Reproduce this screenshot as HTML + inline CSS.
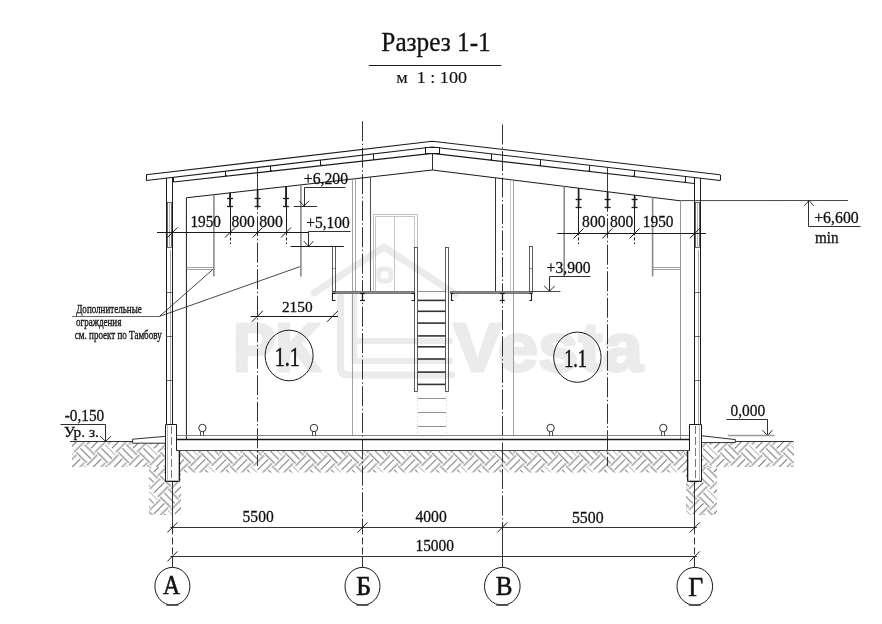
<!DOCTYPE html>
<html><head><meta charset="utf-8"><style>
html,body{margin:0;padding:0;background:#fff;}
svg{display:block;filter:grayscale(1);}
</style></head><body>
<svg width="882" height="624" viewBox="0 0 882 624">
<rect width="882" height="624" fill="#fff"/>
<text transform="translate(233.06,371.30) scale(0.9243,1)" font-family="Liberation Sans, sans-serif" font-weight="bold" font-size="68.55" fill="#ebebeb" stroke="#ebebeb" stroke-width="3.25" stroke-linejoin="round">PK</text>
<text transform="translate(453.27,370.70) scale(1.0591,1)" font-family="Liberation Sans, sans-serif" font-weight="bold" font-size="68.55" fill="#ebebeb" stroke="#ebebeb" stroke-width="2.83" stroke-linejoin="round">Vesta</text>
<g fill="none" stroke="#ebebeb" stroke-width="7" stroke-linejoin="round" stroke-linecap="round">
<polyline points="314,293 384,247 455,294"/>
<path d="M340.5,296 L340.5,367 Q340.5,375 348.5,375 L452,375"/>
<path d="M354.4,293 L354.4,361 L450,361 M354.4,341 L450,341" stroke-width="6"/>
<rect x="378.7" y="268.9" width="12" height="12" rx="3" stroke-width="5"/>
</g>
<defs>
<pattern id="phin" patternUnits="userSpaceOnUse" width="29.700" height="29.700" patternTransform="translate(-1.00,3.90) rotate(45)">
<g stroke="#686868" stroke-width="0.95">
<line x1="0.00" y1="0.00" x2="14.85" y2="0.00"/>
<line x1="0.00" y1="5.57" x2="14.85" y2="5.57"/>
<line x1="0.00" y1="11.14" x2="14.85" y2="11.14"/>
<line x1="16.71" y1="-1.86" x2="16.71" y2="12.99"/>
<line x1="16.71" y1="27.84" x2="16.71" y2="42.69"/>
<line x1="22.27" y1="-1.86" x2="22.27" y2="12.99"/>
<line x1="22.27" y1="27.84" x2="22.27" y2="42.69"/>
<line x1="27.84" y1="-1.86" x2="27.84" y2="12.99"/>
<line x1="27.84" y1="27.84" x2="27.84" y2="42.69"/>
<line x1="1.86" y1="12.99" x2="1.86" y2="27.84"/>
<line x1="1.86" y1="42.69" x2="1.86" y2="57.54"/>
<line x1="7.42" y1="12.99" x2="7.42" y2="27.84"/>
<line x1="7.42" y1="42.69" x2="7.42" y2="57.54"/>
<line x1="12.99" y1="12.99" x2="12.99" y2="27.84"/>
<line x1="12.99" y1="42.69" x2="12.99" y2="57.54"/>
<line x1="14.85" y1="14.85" x2="29.70" y2="14.85"/>
<line x1="14.85" y1="20.42" x2="29.70" y2="20.42"/>
<line x1="14.85" y1="25.99" x2="29.70" y2="25.99"/>
</g></pattern>
<clipPath id="chin"><rect x="179" y="451" width="510" height="21.5"/></clipPath>
<pattern id="phlo" patternUnits="userSpaceOnUse" width="29.700" height="29.700" patternTransform="translate(0.30,3.40) rotate(45)">
<g stroke="#686868" stroke-width="0.95">
<line x1="0.00" y1="0.00" x2="14.85" y2="0.00"/>
<line x1="0.00" y1="5.57" x2="14.85" y2="5.57"/>
<line x1="0.00" y1="11.14" x2="14.85" y2="11.14"/>
<line x1="16.71" y1="-1.86" x2="16.71" y2="12.99"/>
<line x1="16.71" y1="27.84" x2="16.71" y2="42.69"/>
<line x1="22.27" y1="-1.86" x2="22.27" y2="12.99"/>
<line x1="22.27" y1="27.84" x2="22.27" y2="42.69"/>
<line x1="27.84" y1="-1.86" x2="27.84" y2="12.99"/>
<line x1="27.84" y1="27.84" x2="27.84" y2="42.69"/>
<line x1="1.86" y1="12.99" x2="1.86" y2="27.84"/>
<line x1="1.86" y1="42.69" x2="1.86" y2="57.54"/>
<line x1="7.42" y1="12.99" x2="7.42" y2="27.84"/>
<line x1="7.42" y1="42.69" x2="7.42" y2="57.54"/>
<line x1="12.99" y1="12.99" x2="12.99" y2="27.84"/>
<line x1="12.99" y1="42.69" x2="12.99" y2="57.54"/>
<line x1="14.85" y1="14.85" x2="29.70" y2="14.85"/>
<line x1="14.85" y1="20.42" x2="29.70" y2="20.42"/>
<line x1="14.85" y1="25.99" x2="29.70" y2="25.99"/>
</g></pattern>
<clipPath id="chlo"><polygon points="72,442 176.7,442 176.7,450 181,450 181,467 72,467"/></clipPath>
<pattern id="phlu" patternUnits="userSpaceOnUse" width="29.700" height="29.700" patternTransform="translate(0.20,6.00) rotate(45)">
<g stroke="#686868" stroke-width="0.95">
<line x1="0.00" y1="0.00" x2="14.85" y2="0.00"/>
<line x1="0.00" y1="5.57" x2="14.85" y2="5.57"/>
<line x1="0.00" y1="11.14" x2="14.85" y2="11.14"/>
<line x1="16.71" y1="-1.86" x2="16.71" y2="12.99"/>
<line x1="16.71" y1="27.84" x2="16.71" y2="42.69"/>
<line x1="22.27" y1="-1.86" x2="22.27" y2="12.99"/>
<line x1="22.27" y1="27.84" x2="22.27" y2="42.69"/>
<line x1="27.84" y1="-1.86" x2="27.84" y2="12.99"/>
<line x1="27.84" y1="27.84" x2="27.84" y2="42.69"/>
<line x1="1.86" y1="12.99" x2="1.86" y2="27.84"/>
<line x1="1.86" y1="42.69" x2="1.86" y2="57.54"/>
<line x1="7.42" y1="12.99" x2="7.42" y2="27.84"/>
<line x1="7.42" y1="42.69" x2="7.42" y2="57.54"/>
<line x1="12.99" y1="12.99" x2="12.99" y2="27.84"/>
<line x1="12.99" y1="42.69" x2="12.99" y2="57.54"/>
<line x1="14.85" y1="14.85" x2="29.70" y2="14.85"/>
<line x1="14.85" y1="20.42" x2="29.70" y2="20.42"/>
<line x1="14.85" y1="25.99" x2="29.70" y2="25.99"/>
</g></pattern>
<clipPath id="chlu"><polygon points="149,467 181,467 181,515 149,515"/></clipPath>
<pattern id="phro" patternUnits="userSpaceOnUse" width="29.700" height="29.700" patternTransform="translate(14.10,3.60) rotate(45)">
<g stroke="#686868" stroke-width="0.95">
<line x1="0.00" y1="0.00" x2="14.85" y2="0.00"/>
<line x1="0.00" y1="5.57" x2="14.85" y2="5.57"/>
<line x1="0.00" y1="11.14" x2="14.85" y2="11.14"/>
<line x1="16.71" y1="-1.86" x2="16.71" y2="12.99"/>
<line x1="16.71" y1="27.84" x2="16.71" y2="42.69"/>
<line x1="22.27" y1="-1.86" x2="22.27" y2="12.99"/>
<line x1="22.27" y1="27.84" x2="22.27" y2="42.69"/>
<line x1="27.84" y1="-1.86" x2="27.84" y2="12.99"/>
<line x1="27.84" y1="27.84" x2="27.84" y2="42.69"/>
<line x1="1.86" y1="12.99" x2="1.86" y2="27.84"/>
<line x1="1.86" y1="42.69" x2="1.86" y2="57.54"/>
<line x1="7.42" y1="12.99" x2="7.42" y2="27.84"/>
<line x1="7.42" y1="42.69" x2="7.42" y2="57.54"/>
<line x1="12.99" y1="12.99" x2="12.99" y2="27.84"/>
<line x1="12.99" y1="42.69" x2="12.99" y2="57.54"/>
<line x1="14.85" y1="14.85" x2="29.70" y2="14.85"/>
<line x1="14.85" y1="20.42" x2="29.70" y2="20.42"/>
<line x1="14.85" y1="25.99" x2="29.70" y2="25.99"/>
</g></pattern>
<clipPath id="chro"><polygon points="686,450 689.4,450 689.4,442 794,442 794,467 686,467"/></clipPath>
<pattern id="phru" patternUnits="userSpaceOnUse" width="29.700" height="29.700" patternTransform="translate(14.30,6.00) rotate(45)">
<g stroke="#686868" stroke-width="0.95">
<line x1="0.00" y1="0.00" x2="14.85" y2="0.00"/>
<line x1="0.00" y1="5.57" x2="14.85" y2="5.57"/>
<line x1="0.00" y1="11.14" x2="14.85" y2="11.14"/>
<line x1="16.71" y1="-1.86" x2="16.71" y2="12.99"/>
<line x1="16.71" y1="27.84" x2="16.71" y2="42.69"/>
<line x1="22.27" y1="-1.86" x2="22.27" y2="12.99"/>
<line x1="22.27" y1="27.84" x2="22.27" y2="42.69"/>
<line x1="27.84" y1="-1.86" x2="27.84" y2="12.99"/>
<line x1="27.84" y1="27.84" x2="27.84" y2="42.69"/>
<line x1="1.86" y1="12.99" x2="1.86" y2="27.84"/>
<line x1="1.86" y1="42.69" x2="1.86" y2="57.54"/>
<line x1="7.42" y1="12.99" x2="7.42" y2="27.84"/>
<line x1="7.42" y1="42.69" x2="7.42" y2="57.54"/>
<line x1="12.99" y1="12.99" x2="12.99" y2="27.84"/>
<line x1="12.99" y1="42.69" x2="12.99" y2="57.54"/>
<line x1="14.85" y1="14.85" x2="29.70" y2="14.85"/>
<line x1="14.85" y1="20.42" x2="29.70" y2="20.42"/>
<line x1="14.85" y1="25.99" x2="29.70" y2="25.99"/>
</g></pattern>
<clipPath id="chru"><polygon points="686,467 717,467 717,515 686,515"/></clipPath>
</defs>
<rect x="60" y="440" width="750" height="80" fill="url(#phin)" clip-path="url(#chin)"/>
<rect x="60" y="440" width="750" height="80" fill="url(#phlo)" clip-path="url(#chlo)"/>
<rect x="60" y="440" width="750" height="80" fill="url(#phlu)" clip-path="url(#chlu)"/>
<rect x="60" y="440" width="750" height="80" fill="url(#phro)" clip-path="url(#chro)"/>
<rect x="60" y="440" width="750" height="80" fill="url(#phru)" clip-path="url(#chru)"/>
<text transform="translate(381.34,50.60) scale(0.9375,1)" font-family="Liberation Serif, serif" font-size="26.97" fill="#111" stroke="#111" stroke-width="0.3">Разрез 1-1</text>
<line x1="368.80" y1="65.50" x2="501.20" y2="65.50" stroke="#1a1a1a" stroke-width="1.2"/>
<text transform="translate(396.24,82.60) scale(1.0300,1)" font-family="Liberation Serif, serif" font-size="17.58" fill="#111" stroke="#111" stroke-width="0.15">м&#160;&#160;1 : 100</text>
<line x1="362.50" y1="121.20" x2="362.50" y2="527.40" stroke="#333" stroke-width="1" stroke-dasharray="20,2.5,1.5,2.5"/>
<line x1="502.50" y1="124.50" x2="502.50" y2="527.40" stroke="#333" stroke-width="1" stroke-dasharray="20,2.5,1.5,2.5"/>
<line x1="172.50" y1="482.00" x2="172.50" y2="527.40" stroke="#333" stroke-width="1"/>
<line x1="694.50" y1="482.00" x2="694.50" y2="527.40" stroke="#333" stroke-width="1"/>
<line x1="172.50" y1="527.40" x2="172.50" y2="556.40" stroke="#333" stroke-width="1" stroke-dasharray="7,3"/>
<line x1="172.50" y1="556.40" x2="172.50" y2="567.40" stroke="#333" stroke-width="1"/>
<line x1="362.50" y1="527.40" x2="362.50" y2="556.40" stroke="#333" stroke-width="1" stroke-dasharray="7,3"/>
<line x1="362.50" y1="556.40" x2="362.50" y2="567.40" stroke="#333" stroke-width="1"/>
<line x1="502.50" y1="527.40" x2="502.50" y2="556.40" stroke="#333" stroke-width="1"/>
<line x1="502.50" y1="556.40" x2="502.50" y2="567.40" stroke="#333" stroke-width="1"/>
<line x1="694.50" y1="527.40" x2="694.50" y2="556.40" stroke="#333" stroke-width="1" stroke-dasharray="7,3"/>
<line x1="694.50" y1="556.40" x2="694.50" y2="567.40" stroke="#333" stroke-width="1"/>
<polyline points="146.20,174.70 432.30,141.20 720.00,174.69" stroke="#1a1a1a" stroke-width="1.1" fill="none"/>
<polyline points="146.20,180.50 432.30,147.00 720.00,180.49" stroke="#1a1a1a" stroke-width="1.1" fill="none"/>
<line x1="146.50" y1="174.70" x2="146.50" y2="180.50" stroke="#1a1a1a" stroke-width="1.1"/>
<line x1="720.50" y1="174.69" x2="720.50" y2="180.49" stroke="#1a1a1a" stroke-width="1.1"/>
<polyline points="173.50,182.05 432.30,153.40 694.40,183.57" stroke="#1a1a1a" stroke-width="1.1" fill="none"/>
<line x1="173.50" y1="177.31" x2="173.50" y2="182.05" stroke="#1a1a1a" stroke-width="1.0"/>
<line x1="225.50" y1="171.23" x2="225.50" y2="176.30" stroke="#1a1a1a" stroke-width="1.0"/>
<line x1="225.40" y1="175.80" x2="226.90" y2="175.64" stroke="#1a1a1a" stroke-width="1.0"/>
<line x1="270.50" y1="165.92" x2="270.50" y2="171.29" stroke="#1a1a1a" stroke-width="1.0"/>
<line x1="270.70" y1="170.79" x2="272.20" y2="170.62" stroke="#1a1a1a" stroke-width="1.0"/>
<line x1="320.50" y1="160.08" x2="320.50" y2="165.77" stroke="#1a1a1a" stroke-width="1.0"/>
<line x1="320.60" y1="165.27" x2="322.10" y2="165.10" stroke="#1a1a1a" stroke-width="1.0"/>
<line x1="373.50" y1="153.93" x2="373.50" y2="159.95" stroke="#1a1a1a" stroke-width="1.0"/>
<line x1="373.10" y1="159.45" x2="374.60" y2="159.29" stroke="#1a1a1a" stroke-width="1.0"/>
<line x1="491.50" y1="153.91" x2="491.50" y2="160.24" stroke="#1a1a1a" stroke-width="1.0"/>
<line x1="491.70" y1="159.74" x2="490.20" y2="159.56" stroke="#1a1a1a" stroke-width="1.0"/>
<line x1="540.50" y1="159.62" x2="540.50" y2="165.88" stroke="#1a1a1a" stroke-width="1.0"/>
<line x1="540.70" y1="165.38" x2="539.20" y2="165.20" stroke="#1a1a1a" stroke-width="1.0"/>
<line x1="589.50" y1="165.32" x2="589.50" y2="171.52" stroke="#1a1a1a" stroke-width="1.0"/>
<line x1="589.70" y1="171.02" x2="588.20" y2="170.84" stroke="#1a1a1a" stroke-width="1.0"/>
<line x1="634.50" y1="170.51" x2="634.50" y2="176.65" stroke="#1a1a1a" stroke-width="1.0"/>
<line x1="634.30" y1="176.15" x2="632.80" y2="175.98" stroke="#1a1a1a" stroke-width="1.0"/>
<line x1="685.50" y1="176.51" x2="685.50" y2="182.58" stroke="#1a1a1a" stroke-width="1.0"/>
<line x1="685.80" y1="182.08" x2="684.30" y2="181.91" stroke="#1a1a1a" stroke-width="1.0"/>
<rect x="425.50" y="147.50" width="14.00" height="6.00" stroke="#1a1a1a" stroke-width="1.0" fill="#fff"/>
<line x1="432.50" y1="153.10" x2="432.50" y2="170.00" stroke="#1a1a1a" stroke-width="0.9"/>
<polyline points="186.40,439.00 186.40,197.79 432.30,170.00 680.60,200.84" stroke="#1a1a1a" stroke-width="1.0" fill="none"/>
<line x1="680.50" y1="200.84" x2="680.50" y2="439.00" stroke="#8a8a8a" stroke-width="0.9"/>
<line x1="680.60" y1="200.60" x2="848.10" y2="200.50" stroke="#333" stroke-width="0.9"/>
<line x1="166.50" y1="178.16" x2="166.50" y2="424.50" stroke="#1a1a1a" stroke-width="1.0"/>
<line x1="172.50" y1="177.40" x2="172.50" y2="424.50" stroke="#1a1a1a" stroke-width="1.0"/>
<line x1="170.50" y1="250.00" x2="170.50" y2="424.50" stroke="#8a8a8a" stroke-width="0.7"/>
<rect x="167.50" y="202.50" width="4.00" height="45.00" stroke="#444" stroke-width="0.8" fill="none"/>
<line x1="169.50" y1="202.20" x2="169.50" y2="247.90" stroke="#8a8a8a" stroke-width="0.6"/>
<line x1="166.20" y1="292.50" x2="172.70" y2="292.50" stroke="#444" stroke-width="0.8"/>
<line x1="166.20" y1="336.50" x2="172.70" y2="336.50" stroke="#444" stroke-width="0.8"/>
<line x1="166.20" y1="380.50" x2="172.70" y2="380.50" stroke="#444" stroke-width="0.8"/>
<line x1="694.50" y1="177.51" x2="694.50" y2="424.50" stroke="#1a1a1a" stroke-width="1.0"/>
<line x1="700.50" y1="178.27" x2="700.50" y2="424.50" stroke="#1a1a1a" stroke-width="1.0"/>
<line x1="698.50" y1="250.00" x2="698.50" y2="424.50" stroke="#8a8a8a" stroke-width="0.7"/>
<rect x="695.50" y="202.50" width="4.00" height="45.00" stroke="#444" stroke-width="0.8" fill="none"/>
<line x1="697.50" y1="202.20" x2="697.50" y2="247.90" stroke="#8a8a8a" stroke-width="0.6"/>
<line x1="694.40" y1="292.50" x2="700.90" y2="292.50" stroke="#444" stroke-width="0.8"/>
<line x1="694.40" y1="336.50" x2="700.90" y2="336.50" stroke="#444" stroke-width="0.8"/>
<line x1="694.40" y1="380.50" x2="700.90" y2="380.50" stroke="#444" stroke-width="0.8"/>
<line x1="230.50" y1="192.86" x2="230.50" y2="232.50" stroke="#1a1a1a" stroke-width="1.0"/>
<line x1="230.50" y1="232.50" x2="230.50" y2="244.00" stroke="#1a1a1a" stroke-width="1.0" stroke-dasharray="3,2"/>
<line x1="230.00" y1="192.86" x2="230.00" y2="206.40" stroke="#1a1a1a" stroke-width="1.7"/>
<line x1="227.00" y1="198.50" x2="233.00" y2="198.50" stroke="#1a1a1a" stroke-width="1.3"/>
<line x1="227.00" y1="206.50" x2="233.00" y2="206.50" stroke="#1a1a1a" stroke-width="1.3"/>
<line x1="286.50" y1="186.53" x2="286.50" y2="232.50" stroke="#1a1a1a" stroke-width="1.0"/>
<line x1="286.50" y1="232.50" x2="286.50" y2="244.00" stroke="#1a1a1a" stroke-width="1.0" stroke-dasharray="3,2"/>
<line x1="286.00" y1="186.53" x2="286.00" y2="206.40" stroke="#1a1a1a" stroke-width="1.7"/>
<line x1="283.00" y1="198.50" x2="289.00" y2="198.50" stroke="#1a1a1a" stroke-width="1.3"/>
<line x1="283.00" y1="206.50" x2="289.00" y2="206.50" stroke="#1a1a1a" stroke-width="1.3"/>
<line x1="578.50" y1="188.17" x2="578.50" y2="232.50" stroke="#1a1a1a" stroke-width="1.0"/>
<line x1="578.50" y1="232.50" x2="578.50" y2="244.00" stroke="#1a1a1a" stroke-width="1.0" stroke-dasharray="3,2"/>
<line x1="578.60" y1="188.17" x2="578.60" y2="207.30" stroke="#1a1a1a" stroke-width="1.7"/>
<line x1="575.60" y1="199.50" x2="581.60" y2="199.50" stroke="#1a1a1a" stroke-width="1.3"/>
<line x1="575.60" y1="207.50" x2="581.60" y2="207.50" stroke="#1a1a1a" stroke-width="1.3"/>
<line x1="634.50" y1="195.13" x2="634.50" y2="232.50" stroke="#1a1a1a" stroke-width="1.0"/>
<line x1="634.50" y1="232.50" x2="634.50" y2="244.00" stroke="#1a1a1a" stroke-width="1.0" stroke-dasharray="3,2"/>
<line x1="634.60" y1="195.13" x2="634.60" y2="207.30" stroke="#1a1a1a" stroke-width="1.7"/>
<line x1="631.60" y1="199.50" x2="637.60" y2="199.50" stroke="#1a1a1a" stroke-width="1.3"/>
<line x1="631.60" y1="207.50" x2="637.60" y2="207.50" stroke="#1a1a1a" stroke-width="1.3"/>
<line x1="257.50" y1="167.46" x2="257.50" y2="189.74" stroke="#222" stroke-width="0.9"/>
<line x1="257.50" y1="189.74" x2="257.50" y2="466.00" stroke="#333" stroke-width="1.0" stroke-dasharray="20,2.5,1.5,2.5"/>
<line x1="257.60" y1="189.74" x2="257.60" y2="206.40" stroke="#1a1a1a" stroke-width="1.7"/>
<line x1="254.60" y1="198.50" x2="260.60" y2="198.50" stroke="#1a1a1a" stroke-width="1.3"/>
<line x1="254.60" y1="206.50" x2="260.60" y2="206.50" stroke="#1a1a1a" stroke-width="1.3"/>
<line x1="607.50" y1="167.40" x2="607.50" y2="191.77" stroke="#222" stroke-width="0.9"/>
<line x1="607.50" y1="191.77" x2="607.50" y2="466.00" stroke="#333" stroke-width="1.0" stroke-dasharray="20,2.5,1.5,2.5"/>
<line x1="607.60" y1="191.77" x2="607.60" y2="207.30" stroke="#1a1a1a" stroke-width="1.7"/>
<line x1="604.60" y1="199.50" x2="610.60" y2="199.50" stroke="#1a1a1a" stroke-width="1.3"/>
<line x1="604.60" y1="207.50" x2="610.60" y2="207.50" stroke="#1a1a1a" stroke-width="1.3"/>
<line x1="213.90" y1="194.68" x2="213.90" y2="276.40" stroke="#8a8a8a" stroke-width="1.6"/>
<line x1="300.90" y1="184.85" x2="300.90" y2="276.40" stroke="#8a8a8a" stroke-width="1.6"/>
<line x1="652.60" y1="197.36" x2="652.60" y2="276.40" stroke="#8a8a8a" stroke-width="1.6"/>
<line x1="564.20" y1="186.38" x2="564.20" y2="276.40" stroke="#8a8a8a" stroke-width="1.6"/>
<line x1="186.50" y1="267.50" x2="213.90" y2="267.50" stroke="#8a8a8a" stroke-width="0.8"/>
<line x1="186.50" y1="269.50" x2="213.90" y2="269.50" stroke="#8a8a8a" stroke-width="0.8"/>
<line x1="652.60" y1="267.50" x2="680.60" y2="267.50" stroke="#8a8a8a" stroke-width="0.8"/>
<line x1="652.60" y1="269.50" x2="680.60" y2="269.50" stroke="#8a8a8a" stroke-width="0.8"/>
<line x1="352.50" y1="179.02" x2="352.50" y2="435.70" stroke="#8a8a8a" stroke-width="0.8"/>
<line x1="355.50" y1="178.68" x2="355.50" y2="291.30" stroke="#8a8a8a" stroke-width="0.8"/>
<line x1="370.50" y1="177.02" x2="370.50" y2="291.30" stroke="#555" stroke-width="1.1"/>
<line x1="495.50" y1="177.84" x2="495.50" y2="291.30" stroke="#333" stroke-width="1.0"/>
<line x1="510.50" y1="179.69" x2="510.50" y2="291.30" stroke="#b8b8b8" stroke-width="0.8"/>
<line x1="513.50" y1="180.07" x2="513.50" y2="435.70" stroke="#8a8a8a" stroke-width="0.8"/>
<polyline points="373.50,291.50 373.50,214.50 417.50,214.50 417.50,247.50" stroke="#b8b8b8" stroke-width="0.9" fill="none"/>
<polyline points="375.50,291.50 375.50,216.50 414.50,216.50 414.50,247.50" stroke="#b8b8b8" stroke-width="0.8" fill="none"/>
<line x1="394.50" y1="216.00" x2="394.50" y2="291.30" stroke="#b8b8b8" stroke-width="0.8"/>
<rect x="332.50" y="291.50" width="82.00" height="2.00" stroke="#666" stroke-width="0.8" fill="#888"/>
<rect x="450.50" y="291.50" width="82.00" height="2.00" stroke="#666" stroke-width="0.8" fill="#888"/>
<line x1="418.00" y1="291.50" x2="445.30" y2="291.50" stroke="#777" stroke-width="0.8"/>
<rect x="332.50" y="246.50" width="3.00" height="45.00" stroke="#333" stroke-width="0.8" fill="none"/>
<line x1="332.50" y1="268.50" x2="335.50" y2="268.50" stroke="#555" stroke-width="0.6"/>
<rect x="529.50" y="246.50" width="3.00" height="45.00" stroke="#333" stroke-width="0.8" fill="none"/>
<line x1="529.60" y1="268.50" x2="532.60" y2="268.50" stroke="#555" stroke-width="0.6"/>
<rect x="414.50" y="247.50" width="3.00" height="144.00" stroke="#333" stroke-width="0.8" fill="none"/>
<rect x="445.50" y="247.50" width="3.00" height="144.00" stroke="#333" stroke-width="0.8" fill="none"/>
<line x1="417.80" y1="300.40" x2="445.30" y2="300.40" stroke="#333" stroke-width="1.6"/>
<line x1="417.80" y1="311.30" x2="445.30" y2="311.30" stroke="#333" stroke-width="1.6"/>
<line x1="417.80" y1="323.10" x2="445.30" y2="323.10" stroke="#333" stroke-width="1.6"/>
<line x1="417.80" y1="335.90" x2="445.30" y2="335.90" stroke="#333" stroke-width="1.6"/>
<line x1="417.80" y1="346.80" x2="445.30" y2="346.80" stroke="#333" stroke-width="1.6"/>
<line x1="417.80" y1="359.00" x2="445.30" y2="359.00" stroke="#333" stroke-width="1.6"/>
<line x1="417.80" y1="372.10" x2="445.30" y2="372.10" stroke="#333" stroke-width="1.6"/>
<line x1="417.80" y1="384.40" x2="445.30" y2="384.40" stroke="#333" stroke-width="1.6"/>
<line x1="417.60" y1="398.50" x2="446.20" y2="398.50" stroke="#777" stroke-width="0.8"/>
<line x1="417.60" y1="412.50" x2="446.20" y2="412.50" stroke="#777" stroke-width="0.8"/>
<line x1="417.60" y1="426.50" x2="446.20" y2="426.50" stroke="#777" stroke-width="0.8"/>
<line x1="417.50" y1="392.00" x2="417.50" y2="435.00" stroke="#ccc" stroke-width="0.6" stroke-dasharray="2,2"/>
<line x1="446.50" y1="392.00" x2="446.50" y2="435.00" stroke="#ccc" stroke-width="0.6" stroke-dasharray="2,2"/>
<polyline points="335.50,293.50 332.50,293.50 332.50,300.50 335.50,300.50" stroke="#1a1a1a" stroke-width="1.1" fill="none"/>
<polyline points="411.50,293.50 414.50,293.50 414.50,300.50 411.50,300.50" stroke="#1a1a1a" stroke-width="1.1" fill="none"/>
<polyline points="453.50,293.50 451.50,293.50 451.50,300.50 453.50,300.50" stroke="#1a1a1a" stroke-width="1.1" fill="none"/>
<polyline points="529.50,293.50 531.50,293.50 531.50,300.50 529.50,300.50" stroke="#1a1a1a" stroke-width="1.1" fill="none"/>
<line x1="360.00" y1="293.50" x2="365.00" y2="293.50" stroke="#1a1a1a" stroke-width="1.2"/>
<line x1="362.50" y1="293.60" x2="362.50" y2="300.80" stroke="#1a1a1a" stroke-width="1.3"/>
<line x1="360.00" y1="300.50" x2="365.00" y2="300.50" stroke="#1a1a1a" stroke-width="1.2"/>
<line x1="499.80" y1="293.50" x2="504.80" y2="293.50" stroke="#1a1a1a" stroke-width="1.2"/>
<line x1="502.50" y1="293.60" x2="502.50" y2="300.80" stroke="#1a1a1a" stroke-width="1.3"/>
<line x1="499.80" y1="300.50" x2="504.80" y2="300.50" stroke="#1a1a1a" stroke-width="1.2"/>
<line x1="290.60" y1="246.50" x2="343.80" y2="246.50" stroke="#1a1a1a" stroke-width="1.1"/>
<line x1="176.70" y1="435.50" x2="689.40" y2="435.50" stroke="#777" stroke-width="0.9"/>
<line x1="176.70" y1="439.50" x2="689.40" y2="439.50" stroke="#1a1a1a" stroke-width="1.3"/>
<line x1="179.50" y1="450.50" x2="687.30" y2="450.50" stroke="#333" stroke-width="0.9"/>
<polygon points="132.60,439.20 166.00,436.30 166.00,443.20 132.60,443.20" stroke="#1a1a1a" stroke-width="0.9" fill="#fff"/>
<polygon points="701.20,435.70 735.30,439.60 735.30,442.60 701.20,442.60" stroke="#1a1a1a" stroke-width="0.9" fill="#fff"/>
<line x1="70.00" y1="441.50" x2="132.60" y2="441.50" stroke="#333" stroke-width="1.0"/>
<line x1="735.30" y1="441.50" x2="793.50" y2="441.50" stroke="#333" stroke-width="1.0"/>
<polygon points="165.50,424.50 176.50,424.50 176.50,450.50 179.50,450.50 179.50,481.50 165.50,481.50" stroke="#1a1a1a" stroke-width="1.0" fill="#fff"/>
<line x1="167.50" y1="424.20" x2="167.50" y2="481.80" stroke="#8a8a8a" stroke-width="0.6"/>
<line x1="178.50" y1="450.40" x2="178.50" y2="481.80" stroke="#8a8a8a" stroke-width="0.6"/>
<line x1="171.50" y1="426.00" x2="171.50" y2="480.00" stroke="#555" stroke-width="0.8" stroke-dasharray="8,3"/>
<line x1="165.90" y1="480.50" x2="179.70" y2="480.50" stroke="#8a8a8a" stroke-width="0.6"/>
<polygon points="701.50,424.50 689.50,424.50 689.50,450.50 687.50,450.50 687.50,481.50 701.50,481.50" stroke="#1a1a1a" stroke-width="1.0" fill="#fff"/>
<line x1="699.50" y1="424.20" x2="699.50" y2="481.80" stroke="#8a8a8a" stroke-width="0.6"/>
<line x1="688.50" y1="450.40" x2="688.50" y2="481.80" stroke="#8a8a8a" stroke-width="0.6"/>
<line x1="695.50" y1="426.00" x2="695.50" y2="480.00" stroke="#555" stroke-width="0.8" stroke-dasharray="8,3"/>
<line x1="701.20" y1="480.50" x2="687.30" y2="480.50" stroke="#8a8a8a" stroke-width="0.6"/>
<circle cx="202.4" cy="428" r="3.7" fill="#fff" stroke="#1a1a1a" stroke-width="0.9"/>
<line x1="200.50" y1="431.60" x2="200.50" y2="435.70" stroke="#1a1a1a" stroke-width="0.8"/>
<line x1="203.50" y1="431.60" x2="203.50" y2="435.70" stroke="#1a1a1a" stroke-width="0.8"/>
<circle cx="314" cy="428" r="3.7" fill="#fff" stroke="#1a1a1a" stroke-width="0.9"/>
<line x1="312.50" y1="431.60" x2="312.50" y2="435.70" stroke="#1a1a1a" stroke-width="0.8"/>
<line x1="315.50" y1="431.60" x2="315.50" y2="435.70" stroke="#1a1a1a" stroke-width="0.8"/>
<circle cx="550.6" cy="428" r="3.7" fill="#fff" stroke="#1a1a1a" stroke-width="0.9"/>
<line x1="549.50" y1="431.60" x2="549.50" y2="435.70" stroke="#1a1a1a" stroke-width="0.8"/>
<line x1="552.50" y1="431.60" x2="552.50" y2="435.70" stroke="#1a1a1a" stroke-width="0.8"/>
<circle cx="663.3" cy="428" r="3.7" fill="#fff" stroke="#1a1a1a" stroke-width="0.9"/>
<line x1="661.50" y1="431.60" x2="661.50" y2="435.70" stroke="#1a1a1a" stroke-width="0.8"/>
<line x1="664.50" y1="431.60" x2="664.50" y2="435.70" stroke="#1a1a1a" stroke-width="0.8"/>
<ellipse cx="289.1" cy="355.5" rx="24" ry="25.3" fill="none" stroke="#1a1a1a" stroke-width="1"/>
<ellipse cx="577.4" cy="357.2" rx="23.7" ry="25.1" fill="none" stroke="#1a1a1a" stroke-width="1"/>
<text transform="translate(274.79,365.60) scale(0.7326,1)" font-family="Liberation Serif, serif" font-size="27.42" fill="#111" stroke="#111" stroke-width="0.5">1.1</text>
<text transform="translate(564.16,366.60) scale(0.7012,1)" font-family="Liberation Serif, serif" font-size="26.06" fill="#111" stroke="#111" stroke-width="0.5">1.1</text>
<line x1="157.00" y1="232.50" x2="308.60" y2="232.50" stroke="#1a1a1a" stroke-width="1.1"/>
<line x1="167.40" y1="237.50" x2="177.40" y2="227.50" stroke="#1a1a1a" stroke-width="1.0"/>
<line x1="225.00" y1="237.50" x2="235.00" y2="227.50" stroke="#1a1a1a" stroke-width="1.0"/>
<line x1="252.60" y1="237.50" x2="262.60" y2="227.50" stroke="#1a1a1a" stroke-width="1.0"/>
<line x1="281.00" y1="237.50" x2="291.00" y2="227.50" stroke="#1a1a1a" stroke-width="1.0"/>
<text transform="translate(190.42,227.30) scale(0.8777,1)" font-family="Liberation Serif, serif" font-size="17.42" fill="#111" stroke="#111" stroke-width="0.3">1950</text>
<text transform="translate(231.48,227.30) scale(0.8797,1)" font-family="Liberation Serif, serif" font-size="17.69" fill="#111" stroke="#111" stroke-width="0.3">800</text>
<text transform="translate(259.17,227.30) scale(0.8956,1)" font-family="Liberation Serif, serif" font-size="17.69" fill="#111" stroke="#111" stroke-width="0.3">800</text>
<line x1="557.20" y1="233.50" x2="705.90" y2="233.50" stroke="#1a1a1a" stroke-width="1.0"/>
<line x1="573.60" y1="238.40" x2="583.60" y2="228.40" stroke="#1a1a1a" stroke-width="1.0"/>
<line x1="602.40" y1="238.40" x2="612.40" y2="228.40" stroke="#1a1a1a" stroke-width="1.0"/>
<line x1="629.60" y1="238.40" x2="639.60" y2="228.40" stroke="#1a1a1a" stroke-width="1.0"/>
<line x1="689.80" y1="238.40" x2="699.80" y2="228.40" stroke="#1a1a1a" stroke-width="1.0"/>
<text transform="translate(582.07,227.40) scale(0.8914,1)" font-family="Liberation Serif, serif" font-size="17.54" fill="#111" stroke="#111" stroke-width="0.3">800</text>
<text transform="translate(609.88,227.40) scale(0.8874,1)" font-family="Liberation Serif, serif" font-size="17.54" fill="#111" stroke="#111" stroke-width="0.3">800</text>
<text transform="translate(642.82,227.40) scale(0.8885,1)" font-family="Liberation Serif, serif" font-size="17.27" fill="#111" stroke="#111" stroke-width="0.3">1950</text>
<line x1="250.60" y1="316.50" x2="338.00" y2="316.50" stroke="#1a1a1a" stroke-width="1.0"/>
<line x1="251.90" y1="321.80" x2="262.90" y2="310.80" stroke="#1a1a1a" stroke-width="1.0"/>
<line x1="327.00" y1="321.80" x2="338.00" y2="310.80" stroke="#1a1a1a" stroke-width="1.0"/>
<text transform="translate(281.89,311.80) scale(0.9845,1)" font-family="Liberation Serif, serif" font-size="15.61" fill="#111" stroke="#111" stroke-width="0.3">2150</text>
<line x1="170.40" y1="527.50" x2="696.80" y2="527.50" stroke="#333" stroke-width="1.0"/>
<line x1="170.40" y1="556.50" x2="696.80" y2="556.50" stroke="#333" stroke-width="1.0"/>
<line x1="167.40" y1="532.40" x2="177.40" y2="522.40" stroke="#1a1a1a" stroke-width="1.0"/>
<line x1="357.50" y1="532.40" x2="367.50" y2="522.40" stroke="#1a1a1a" stroke-width="1.0"/>
<line x1="497.30" y1="532.40" x2="507.30" y2="522.40" stroke="#1a1a1a" stroke-width="1.0"/>
<line x1="689.80" y1="532.40" x2="699.80" y2="522.40" stroke="#1a1a1a" stroke-width="1.0"/>
<line x1="167.40" y1="561.40" x2="177.40" y2="551.40" stroke="#1a1a1a" stroke-width="1.0"/>
<line x1="689.80" y1="561.40" x2="699.80" y2="551.40" stroke="#1a1a1a" stroke-width="1.0"/>
<text transform="translate(242.57,521.80) scale(0.9041,1)" font-family="Liberation Serif, serif" font-size="17.23" fill="#111" stroke="#111" stroke-width="0.3">5500</text>
<text transform="translate(415.49,521.70) scale(0.8984,1)" font-family="Liberation Serif, serif" font-size="17.38" fill="#111" stroke="#111" stroke-width="0.3">4000</text>
<text transform="translate(571.95,522.60) scale(0.9194,1)" font-family="Liberation Serif, serif" font-size="17.23" fill="#111" stroke="#111" stroke-width="0.3">5500</text>
<text transform="translate(415.41,551.00) scale(0.9100,1)" font-family="Liberation Serif, serif" font-size="16.97" fill="#111" stroke="#111" stroke-width="0.3">15000</text>
<ellipse cx="172.4" cy="586.3" rx="17.5" ry="18.9" fill="#fff" stroke="#1a1a1a" stroke-width="1"/>
<line x1="166.40" y1="605.00" x2="178.40" y2="605.00" stroke="#444" stroke-width="1.6"/>
<text transform="translate(162.96,593.60) scale(0.8893,1)" font-family="Liberation Serif, serif" font-size="26.67" fill="#111" stroke="#111" stroke-width="0.55">А</text>
<ellipse cx="362.5" cy="586.3" rx="17.5" ry="18.9" fill="#fff" stroke="#1a1a1a" stroke-width="1"/>
<line x1="356.50" y1="605.00" x2="368.50" y2="605.00" stroke="#444" stroke-width="1.6"/>
<text transform="translate(356.00,595.20) scale(1.0026,1)" font-family="Liberation Serif, serif" font-size="26.46" fill="#111" stroke="#111" stroke-width="0.55">Б</text>
<ellipse cx="502.3" cy="586.3" rx="17.8" ry="18.9" fill="#fff" stroke="#1a1a1a" stroke-width="1"/>
<line x1="496.30" y1="605.00" x2="508.30" y2="605.00" stroke="#444" stroke-width="1.6"/>
<text transform="translate(495.65,595.40) scale(0.9264,1)" font-family="Liberation Serif, serif" font-size="27.08" fill="#111" stroke="#111" stroke-width="0.55">В</text>
<ellipse cx="694.8" cy="586.3" rx="17.8" ry="18.9" fill="#fff" stroke="#1a1a1a" stroke-width="1"/>
<line x1="688.80" y1="605.00" x2="700.80" y2="605.00" stroke="#444" stroke-width="1.6"/>
<text transform="translate(688.23,595.60) scale(0.9410,1)" font-family="Liberation Serif, serif" font-size="27.38" fill="#111" stroke="#111" stroke-width="0.55">Г</text>
<text transform="translate(303.81,183.70) scale(0.9371,1)" font-family="Liberation Serif, serif" font-size="16.77" fill="#111" stroke="#111" stroke-width="0.3">+6,200</text>
<polyline points="345.50,187.50 304.50,187.50 304.50,206.50" stroke="#1a1a1a" stroke-width="0.9" fill="none"/>
<polyline points="299.30,200.80 304.10,206.10 308.90,200.80" stroke="#1a1a1a" stroke-width="0.9" fill="none"/>
<line x1="293.70" y1="206.50" x2="317.00" y2="206.50" stroke="#1a1a1a" stroke-width="0.9"/>
<text transform="translate(306.23,227.80) scale(0.9213,1)" font-family="Liberation Serif, serif" font-size="16.82" fill="#111" stroke="#111" stroke-width="0.3">+5,100</text>
<polyline points="350.50,231.50 308.50,231.50 308.50,246.50" stroke="#1a1a1a" stroke-width="0.9" fill="none"/>
<polyline points="303.80,241.10 308.60,246.40 313.40,241.10" stroke="#1a1a1a" stroke-width="0.9" fill="none"/>
<text transform="translate(546.62,272.70) scale(0.9502,1)" font-family="Liberation Serif, serif" font-size="16.46" fill="#111" stroke="#111" stroke-width="0.3">+3,900</text>
<polyline points="590.50,276.50 549.50,276.50 549.50,291.50" stroke="#1a1a1a" stroke-width="0.9" fill="none"/>
<polyline points="544.10,286.00 549.40,291.10 554.70,286.00" stroke="#1a1a1a" stroke-width="0.9" fill="none"/>
<line x1="532.50" y1="291.50" x2="560.40" y2="291.50" stroke="#333" stroke-width="0.9"/>
<text transform="translate(814.21,222.50) scale(0.9613,1)" font-family="Liberation Serif, serif" font-size="16.46" fill="#111" stroke="#111" stroke-width="0.3">+6,600</text>
<text transform="translate(815.10,243.10) scale(0.8696,1)" font-family="Liberation Serif, serif" font-size="17.40" fill="#111" stroke="#111" stroke-width="0.3">min</text>
<polyline points="808.50,200.50 808.50,226.50 860.50,226.50" stroke="#1a1a1a" stroke-width="0.9" fill="none"/>
<polyline points="804.20,205.80 809.00,200.50 813.80,205.80" stroke="#1a1a1a" stroke-width="0.9" fill="none"/>
<text transform="translate(730.48,415.60) scale(0.8959,1)" font-family="Liberation Serif, serif" font-size="17.23" fill="#111" stroke="#111" stroke-width="0.3">0,000</text>
<polyline points="726.50,419.50 767.50,419.50 767.50,435.50" stroke="#1a1a1a" stroke-width="0.9" fill="none"/>
<polyline points="762.60,430.20 767.50,435.70 772.40,430.20" stroke="#1a1a1a" stroke-width="0.9" fill="none"/>
<line x1="728.10" y1="435.50" x2="774.50" y2="435.50" stroke="#999" stroke-width="1.3"/>
<text transform="translate(64.69,420.80) scale(0.8869,1)" font-family="Liberation Serif, serif" font-size="17.27" fill="#111" stroke="#111" stroke-width="0.3">-0,150</text>
<text transform="translate(64.04,436.70) scale(0.9906,1)" font-family="Liberation Serif, serif" font-size="15.54" fill="#111" stroke="#111" stroke-width="0.3">Ур. з.</text>
<polyline points="60.50,424.50 105.50,424.50 105.50,441.50" stroke="#1a1a1a" stroke-width="0.9" fill="none"/>
<polyline points="100.00,436.10 105.60,441.30 111.20,436.10" stroke="#1a1a1a" stroke-width="0.9" fill="none"/>
<text transform="translate(76.21,312.70) scale(0.7865,1)" font-family="Liberation Serif, serif" font-size="11.50" fill="#111" stroke="#111" stroke-width="0.3">Дополнительные</text>
<text transform="translate(75.94,326.40) scale(0.7856,1)" font-family="Liberation Serif, serif" font-size="11.50" fill="#111" stroke="#111" stroke-width="0.3">ограждения</text>
<text transform="translate(74.84,338.90) scale(0.7861,1)" font-family="Liberation Serif, serif" font-size="11.50" fill="#111" stroke="#111" stroke-width="0.3">см. проект по Тамбову</text>
<line x1="72.20" y1="316.50" x2="159.50" y2="316.50" stroke="#555" stroke-width="0.9"/>
<line x1="159.50" y1="316.40" x2="212.90" y2="269.40" stroke="#1a1a1a" stroke-width="0.8"/>
<line x1="159.50" y1="316.40" x2="299.80" y2="266.70" stroke="#1a1a1a" stroke-width="0.8"/>
</svg>
</body></html>
